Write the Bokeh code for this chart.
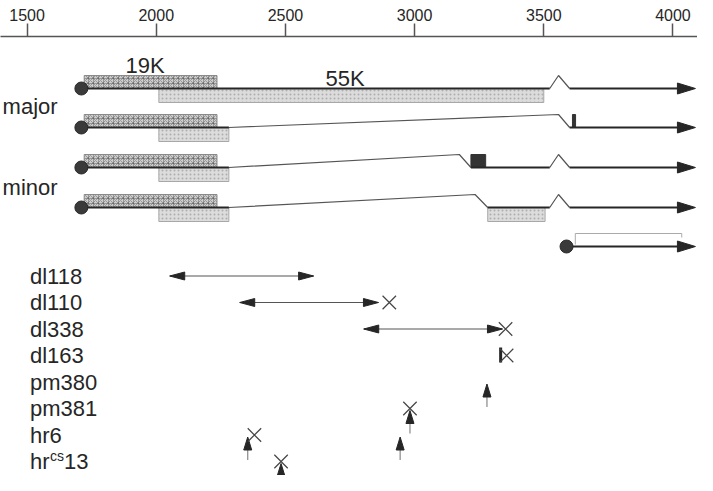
from bokeh.plotting import figure
from bokeh.models import Range1d, LinearAxis, FixedTicker, ColumnDataSource
from bokeh.core.properties import value
from bokeh.embed import file_html
from bokeh.resources import INLINE

# ---------------- data (genome coordinates, bp) ----------------
axis_ticks = [1500, 2000, 2500, 3000, 3500, 4000]

cap_site = 1710          # transcription start of early region
late_cap_site = 3588     # start of the short transcript (row 5)
tx_end = 4087            # arrow tips (transcripts run on)

k19_orf = (1721, 2235)
k55_orf_full = (2010, 3500)
k55_orf_short = (2010, 2281)
k55_orf_tail = (3283, 3505)
donor_site = 2281
small_exon_r2 = (3611, 3623)
small_exon_r3 = (3218, 3275)

# exon (thick) spans per transcript
tx_exons = [
    [(cap_site, 3523)],
    [(cap_site, donor_site)],
    [(cap_site, donor_site), (3218, 3523)],
    [(cap_site, donor_site), (3283, 3523)],
]
# introns / splice junctions as (start, peak, end)
tx_introns = [
    [(3523, 3557, 3600)],
    [(donor_site, 3557, 3600)],
    [(donor_site, 3173, 3218), (3523, 3557, 3600)],
    [(donor_site, 3234, 3283), (3523, 3557, 3600)],
]
tx_last_exon_start = [3600, 3600, 3600, 3600]
late_bracket = (3622, 4034)

mutants = ["dl118", "dl110", "dl338", "dl163", "pm380", "pm381", "hr6", "hr13"]
deletions = {"dl118": (2052, 2609), "dl110": (2323, 2860), "dl338": (2803, 3340)}
stops = {"dl110": 2902, "dl338": 3352, "dl163": 3356, "pm381": 2982, "hr6": 2380, "hr13": 2483}
small_dels = {"dl163": 3333}
point_muts = [("pm380", 3280), ("pm381", 2982), ("hr6", 2944), ("hr6", 2354), ("hr13", 2483)]

# ---------------- layout ----------------
FONT = "Liberation Sans"
INK = "#262626"
W, H = 697, 475
X0, X1 = 1397, 4095
track_y = [92, 131, 171, 211]
late_y = 250
peak = 13
box_h = 13
row0, row_step = 279.5, 26.5
row_of = {m: row0 + i * row_step for i, m in enumerate(mutants)}
BP_PER_PX = (X1 - X0) / W   # y data units are pixels already

p = figure(width=W, height=H, x_range=Range1d(X0, X1), y_range=Range1d(479, 40),
           output_backend="svg", toolbar_location=None,
           x_axis_location=None, y_axis_location=None,
           min_border_top=36, min_border_left=0, min_border_right=0, min_border_bottom=0)
p.outline_line_color = None
p.grid.grid_line_color = None

ax = LinearAxis(ticker=FixedTicker(ticks=axis_ticks))
ax.major_tick_out = 13
ax.major_tick_in = 0
ax.minor_tick_out = 0
ax.minor_tick_in = 0
ax.major_label_standoff = 3
ax.major_label_text_font = FONT
ax.major_label_text_font_size = "16px"
ax.major_label_text_color = INK
ax.axis_line_color = "#555555"
ax.axis_line_width = 1.5
ax.major_tick_line_color = "#555555"
ax.major_tick_line_width = 1.5
p.add_layout(ax, "above")


def head_right(x, y, length, half):
    return [x, x - length * BP_PER_PX, x - length * BP_PER_PX], [y, y - half, y + half]


def head_left(x, y, length, half):
    return [x, x + length * BP_PER_PX, x + length * BP_PER_PX], [y, y - half, y + half]


def head_up(x, y, length, half):
    return [x, x - half * BP_PER_PX, x + half * BP_PER_PX], [y, y + length, y + length]


# ---- coding boxes ----
l, r, t, b = [], [], [], []
for y in track_y:
    l.append(k19_orf[0]); r.append(k19_orf[1]); t.append(y - box_h); b.append(y)
p.quad(left=l, right=r, top=t, bottom=b, fill_color="#cdcdcd", line_color="#8a8a8a",
       line_width=1, hatch_pattern="criss_cross", hatch_color="#555555", hatch_alpha=0.45,
       hatch_scale=5, hatch_weight=1)

l, r, t, b = [], [], [], []
spans55 = [[k55_orf_full], [k55_orf_short], [k55_orf_short], [k55_orf_short, k55_orf_tail]]
for y, spans in zip(track_y, spans55):
    for s in spans:
        l.append(s[0]); r.append(s[1]); t.append(y); b.append(y + box_h + 1)
p.quad(left=l, right=r, top=t, bottom=b, fill_color="#dcdcdc", line_color="#a8a8a8",
       line_width=1, hatch_pattern="dot", hatch_color="#9a9a9a", hatch_alpha=0.7,
       hatch_scale=4)

# small dark exons
p.quad(left=[small_exon_r2[0], small_exon_r3[0]], right=[small_exon_r2[1], small_exon_r3[1]],
       top=[track_y[1] - box_h, track_y[2] - box_h], bottom=[track_y[1], track_y[2]],
       fill_color="#333333", line_color="#333333")

# ---- introns (thin) ----
ixs, iys = [], []
for y, introns in zip(track_y, tx_introns):
    for s, pk, e in introns:
        ixs.append([s, pk, e]); iys.append([y, y - peak, y])
p.multi_line(xs=ixs, ys=iys, line_color="#555555", line_width=1.2)

# ---- exons (thick), including last exon running to arrow ----
exs, eys = [], []
for y, spans, s_last in zip(track_y, tx_exons, tx_last_exon_start):
    for s, e in spans:
        exs.append([s, e]); eys.append([y, y])
    exs.append([s_last, tx_end - 10 * BP_PER_PX]); eys.append([y, y])
exs.append([late_cap_site, tx_end - 10 * BP_PER_PX]); eys.append([late_y, late_y])
p.multi_line(xs=exs, ys=eys, line_color=INK, line_width=2.2)

hx, hy = [], []
for y in track_y + [late_y]:
    a, c = head_right(tx_end, y, 18, 5.5)
    hx.append(a); hy.append(c)
p.patches(xs=hx, ys=hy, fill_color=INK, line_color=INK, line_width=1)

# late bracket
p.line(x=[late_bracket[0], late_bracket[0], late_bracket[1], late_bracket[1]],
       y=[late_y - 2, late_y - peak, late_y - peak, late_y - 9],
       line_color="#aaaaaa", line_width=1)

# cap sites
p.scatter(x=[cap_site] * 4 + [late_cap_site], y=track_y + [late_y], marker="circle",
          size=13, fill_color="#3a3a3a", line_color="#2a2a2a")


# texts (middle-anchored on the visual centre of the letters)
def label(x, y, txt, size="22px", align="left", **kw):
    p.text(x=x, y=y, text=txt, text_font=value(FONT), text_font_size=size,
           text_align=align, text_baseline="middle", text_color=INK, **kw)


label([1957], [69], ["19K"], align="center")
label([2731], [82], ["55K"], align="center")
label([1405, 1405], [110, 191], ["major", "minor"])

lab_x = 1511
plain = [m for m in mutants if m != "hr13"]
label([lab_x] * len(plain), [row_of[m] for m in plain], plain)
yc = row_of["hr13"]
label([lab_x], [yc], ["hr"])
label([lab_x], [yc], ["cs"], size="14px", x_offset=20, y_offset=-6)
label([lab_x], [yc], ["13"], x_offset=34)

# deletions (double-headed arrows)
d0 = [v[0] for v in deletions.values()]
d1 = [v[1] for v in deletions.values()]
dy = [row_of[k] for k in deletions]
p.segment(x0=d0, y0=dy, x1=d1, y1=dy, line_color="#555555", line_width=1.2)
hx, hy = [], []
for a0, a1, y in zip(d0, d1, dy):
    xa, ya = head_left(a0, y, 15, 4); hx.append(xa); hy.append(ya)
    xa, ya = head_right(a1, y, 15, 4); hx.append(xa); hy.append(ya)
p.patches(xs=hx, ys=hy, fill_color=INK, line_color=INK, line_width=1)

# small deletion tick
for k, v in small_dels.items():
    p.segment(x0=[v], y0=[row_of[k] - 8], x1=[v], y1=[row_of[k] + 7],
              line_color=INK, line_width=3)

# point mutations (up arrows)
px_ = [v for _, v in point_muts]
tip = [row_of[k] + 2 for k, _ in point_muts]
p.segment(x0=px_, y0=[t + 23 for t in tip], x1=px_, y1=[t + 10 for t in tip],
          line_color="#888888", line_width=1.2)
hx, hy = [], []
for x, y in zip(px_, tip):
    xa, ya = head_up(x, y, 13, 4); hx.append(xa); hy.append(ya)
p.patches(xs=hx, ys=hy, fill_color=INK, line_color=INK, line_width=1)

# stop / frameshift crosses
p.scatter(x=list(stops.values()), y=[row_of[k] for k in stops], marker="x", size=19,
          line_color="#444444", line_width=1.2)

open("out.html", "w").write(file_html(p, INLINE))
